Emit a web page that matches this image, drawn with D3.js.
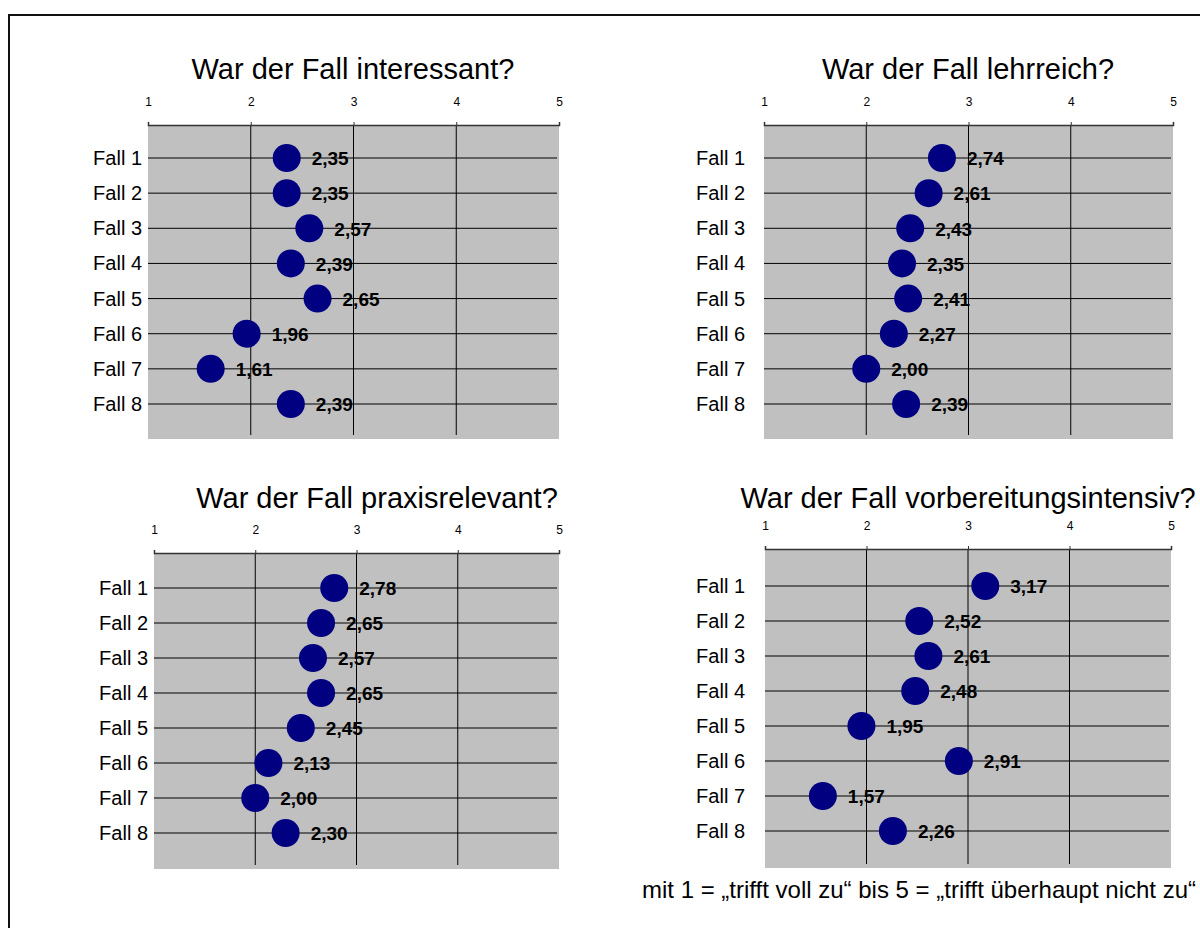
<!DOCTYPE html>
<html>
<head>
  <meta charset="utf-8">
  <title>Fallbewertung</title>
  <script src="https://cdn.jsdelivr.net/npm/d3@7"></script>
  <style>
    body { margin: 0; background: #fff; }
    text { font-family: "Liberation Sans", Arial, sans-serif; fill: #000; }
    .title { font-size: 29px; }
    .cat { font-size: 20px; }
    .val { font-size: 19px; font-weight: bold; }
    .grid line { stroke: #000; stroke-width: 1; }
  </style>
</head>
<body>
<svg width="1200" height="928"></svg>
<script>

var cases = ["Fall 1", "Fall 2", "Fall 3", "Fall 4", "Fall 5", "Fall 6", "Fall 7", "Fall 8"];
var scaleTicks = [1, 2, 3, 4, 5];

var interessant = [2.35, 2.35, 2.57, 2.39, 2.65, 1.96, 1.61, 2.39];
var lehrreich = [2.74, 2.61, 2.43, 2.35, 2.41, 2.27, 2.00, 2.39];
var praxisrelevant = [2.78, 2.65, 2.57, 2.65, 2.45, 2.13, 2.00, 2.30];
var vorbereitungsintensiv = [3.17, 2.52, 2.61, 2.48, 1.95, 2.91, 1.57, 2.26];

var titles = ["War der Fall interessant?", "War der Fall lehrreich?",
              "War der Fall praxisrelevant?", "War der Fall vorbereitungsintensiv?"];
var footnote = "mit 1 = \u201Etrifft voll zu\u201C bis 5 = \u201Etrifft \u00FCberhaupt nicht zu\u201C";

var de = d3.formatLocale({decimal: ",", thousands: ".", grouping: [3], currency: ["", " \u20AC"]});
var fmt = de.format(".2f");

var svg = d3.select("svg");

// outer frame
svg.append("rect")
    .attr("x", 9).attr("y", 15)
    .attr("width", 1200).attr("height", 930)
    .attr("fill", "none")
    .attr("stroke", "#111")
    .attr("stroke-width", 2);

// panel layout
var panels = [
  {values: interessant, title: titles[0], x0: 148, x1: 559, axisY: 125, bottom: 439, row0: 158, row1: 404, titleX: 353, titleY: 79, gap: 6},
  {values: lehrreich, title: titles[1], x0: 764, x1: 1173, axisY: 125, bottom: 439, row0: 158, row1: 404, titleX: 968, titleY: 79, gap: 19},
  {values: praxisrelevant, title: titles[2], x0: 154, x1: 559, axisY: 553, bottom: 869, row0: 588, row1: 833, titleX: 377, titleY: 508, gap: 6},
  {values: vorbereitungsintensiv, title: titles[3], x0: 765, x1: 1171, axisY: 549, bottom: 868, row0: 586, row1: 831, titleX: 968, titleY: 508, gap: 20}
];

panels.forEach(function(p) {
  var g = svg.append("g");

  var x = d3.scaleLinear().domain([1, 5]).range([p.x0, p.x1]);
  var y = d3.scalePoint().domain(cases).range([p.row0, p.row1]);

  g.append("rect")
      .attr("x", p.x0).attr("y", p.axisY)
      .attr("width", p.x1 - p.x0).attr("height", p.bottom - p.axisY)
      .attr("fill", "#c0c0c0");

  var grid = g.append("g").attr("class", "grid");
  grid.selectAll(".v")
      .data([2, 3, 4])
      .enter().append("line")
      .attr("x1", function(d) { return x(d); })
      .attr("x2", function(d) { return x(d); })
      .attr("y1", p.axisY)
      .attr("y2", p.bottom - 4);
  grid.selectAll(".h")
      .data(cases)
      .enter().append("line")
      .attr("x1", p.x0)
      .attr("x2", p.x1 - 2)
      .attr("y1", function(d) { return y(d); })
      .attr("y2", function(d) { return y(d); });

  // top axis
  var axis = g.append("g")
      .attr("transform", "translate(0," + p.axisY + ")")
      .call(d3.axisTop(x).tickValues(scaleTicks).tickSize(3).tickPadding(16).tickFormat(d3.format("d")));
  axis.select(".domain").attr("stroke", "#333").attr("stroke-width", 1.5);
  axis.selectAll(".tick line").attr("stroke", "#333");
  axis.selectAll(".tick text")
      .attr("fill", "#000")
      .style("font-family", "'Liberation Sans', Arial, sans-serif")
      .style("font-size", "12px");

  g.append("text")
      .attr("class", "title")
      .attr("x", p.titleX)
      .attr("y", p.titleY)
      .attr("text-anchor", "middle")
      .text(p.title);

  g.selectAll(".cat")
      .data(cases)
      .enter().append("text")
      .attr("class", "cat")
      .attr("x", p.x0 - p.gap)
      .attr("y", function(d) { return y(d); })
      .attr("dy", "0.35em")
      .attr("text-anchor", "end")
      .text(function(d) { return d; });

  var pts = cases.map(function(c, i) { return {c: c, v: p.values[i]}; });

  g.selectAll("circle")
      .data(pts)
      .enter().append("circle")
      .attr("cx", function(d) { return x(d.v); })
      .attr("cy", function(d) { return y(d.c); })
      .attr("r", 14)
      .attr("fill", "#000080");

  g.selectAll(".val")
      .data(pts)
      .enter().append("text")
      .attr("class", "val")
      .attr("x", function(d) { return x(d.v) + 25; })
      .attr("y", function(d) { return y(d.c); })
      .attr("dy", "0.38em")
      .text(function(d) { return fmt(d.v); });
});

svg.append("text")
    .attr("x", 1196)
    .attr("y", 898)
    .attr("text-anchor", "end")
    .style("font-size", "24px")
    .text(footnote);

</script>
</body>
</html>
